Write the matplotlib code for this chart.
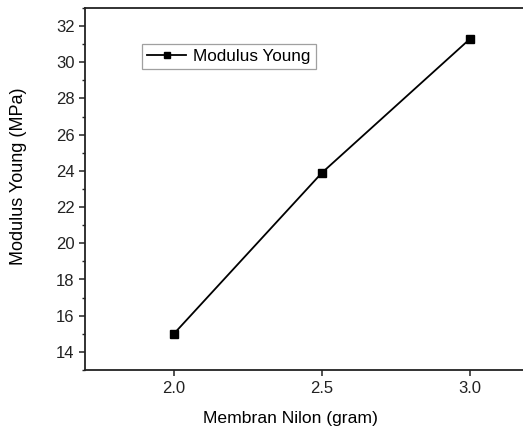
import matplotlib
matplotlib.use('Agg')
import matplotlib.pyplot as plt
from matplotlib.ticker import MultipleLocator

plt.rcParams['font.family'] = ['Liberation Sans', 'DejaVu Sans']

## Data
membran_nilon = [2.0, 2.5, 3.0]
modulus_young = [15.0, 23.9, 31.3]
x_ticks = [2.0, 2.5, 3.0]
x_tick_labels = ['2.0', '2.5', '3.0']

fig = plt.figure(figsize=(5.23, 4.28), dpi=100)
# axes runs past the right edge, like the cropped original
ax = fig.add_axes([85/523, 58/428, 474/523, 362/428])

ax.plot(membran_nilon, modulus_young, color='black', lw=1.3,
        marker='s', markersize=5.6, label='Modulus Young')

ax.set_xlim(1.7, 3.3)
ax.set_ylim(13, 33)
ax.set_xticks(x_ticks)
ax.set_xticklabels(x_tick_labels)
ax.yaxis.set_major_locator(MultipleLocator(2))
ax.yaxis.set_minor_locator(MultipleLocator(1))

for s in ax.spines.values():
    s.set_linewidth(1.3)
    s.set_color('#222222')
ax.tick_params(which='major', direction='out', length=4.6, width=1.1,
               labelsize=12, colors='#222222', pad=3)
ax.tick_params(which='minor', direction='out', length=2.4, width=1.0, colors='#222222')
ax.tick_params(top=False, right=False)

ax.set_xlabel('Membran Nilon (gram)', fontsize=12.6)
ax.set_ylabel('Modulus Young (MPa)', fontsize=13)
ax.xaxis.set_label_coords(0.4325, -0.112)
ax.yaxis.set_label_coords(-0.122, 0.536)

leg = ax.legend(loc='upper left', bbox_to_anchor=(57/474, 1 - 36/362),
                fontsize=12.3, frameon=True, fancybox=False, markerscale=0.7,
                handlelength=2.3, handletextpad=0.4, borderpad=0.3,
                borderaxespad=0)
leg.get_frame().set_edgecolor('#888888')
leg.get_frame().set_linewidth(0.9)

fig.savefig('out.png', dpi=100)
